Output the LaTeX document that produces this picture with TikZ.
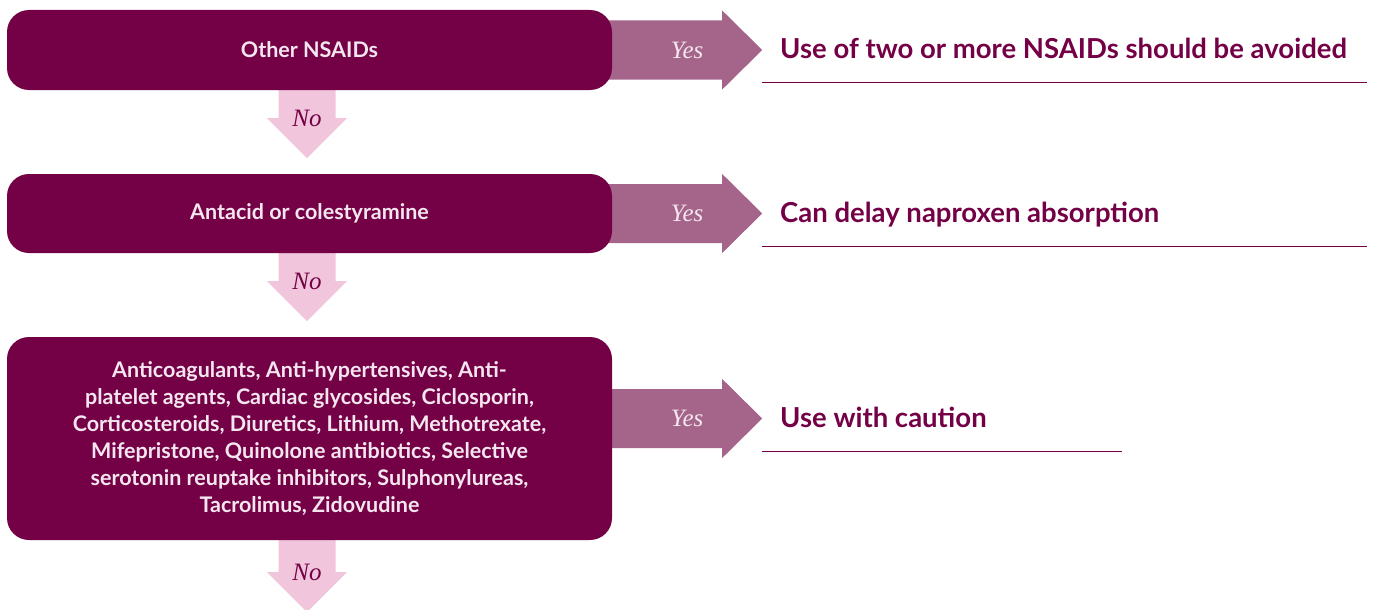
\documentclass[tikz,border=0pt]{standalone}
\usepackage{fontspec}
\setmainfont{Lato}
\newfontfamily\labfont{Liberation Serif}
\usetikzlibrary{calc,backgrounds}
\definecolor{plum}{HTML}{740046}
\definecolor{yesc}{HTML}{A5658A}
\definecolor{noc}{HTML}{F1C5DB}
\definecolor{boxtxt}{HTML}{F4E6EE}
\newcommand\yesarrow[2]{%
  \fill[yesc] ($(#1.east)+(-12,#2-29.5)$) -- ++(122,0) -- ++(0,-10) -- ++(40,39.5)
    -- ++(-40,39.5) -- ++(0,-10) -- ++(-122,0) -- cycle;}
\newcommand\noarrow[2]{%
  \fill[noc] ($(#1.south)+(-31,-2)$) -- ++(57,0) -- ++(0,#2) -- ++(11.5,0) -- ++(-40,40)
    -- ++(-40,-40) -- ++(11.5,0) -- cycle;}
\begin{document}
\begin{tikzpicture}[x=1pt,y=-1pt,
  qbox/.style={fill=plum, rounded corners=22pt, minimum width=605pt, text=boxtxt,
    font=\fontsize{21.5}{27}\selectfont\bfseries, align=center, inner sep=0pt},
  res/.style={text=plum, font=\fontsize{27.5}{30}\selectfont\bfseries, anchor=base west, inner sep=0pt},
  yeslab/.style={text=boxtxt, font=\labfont\itshape\fontsize{25}{25}\selectfont, inner sep=0pt},
  nolab/.style={text=plum, font=\labfont\itshape\fontsize{25}{25}\selectfont, inner sep=0pt},
  rule/.style={draw=plum, line width=1pt}]
\useasboundingbox (0,0) rectangle (1381,610);
% boxes
\node[qbox, minimum height=80pt] (n1) at (309.5,50) {Other NSAIDs};
\node[qbox, minimum height=79pt] (n2) at (309.5,213.5) {Antacid or colestyramine};
\node[qbox, minimum height=203pt] (n3) at (309.5,438.5) {Anticoagulants, Anti-hypertensives, Anti-\\platelet agents, Cardiac glycosides, Ciclosporin,\\Corticosteroids, Diuretics, Lithium, Methotrexate,\\Mifepristone, Quinolone antibiotics, Selective\\serotonin reuptake inhibitors, Sulphonylureas,\\Tacrolimus, Zidovudine};
% arrows behind boxes
\begin{scope}[on background layer]
\yesarrow{n1}{0}
\yesarrow{n2}{0}
\yesarrow{n3}{-20}
\noarrow{n1}{30}
\noarrow{n2}{30}
\noarrow{n3}{34}
\end{scope}
% labels
\node[yeslab] (y1) at ($(n1.east)+(75,0)$) {Yes};
\node[yeslab] (y2) at ($(n2.east)+(75,0)$) {Yes};
\node[yeslab] (y3) at ($(n3.east)+(75,-20)$) {Yes};
\node[nolab] (o1) at ($(n1.south)+(-2.5,28)$) {No};
\node[nolab] (o2) at ($(n2.south)+(-2.5,28)$) {No};
\node[nolab] (o3) at ($(n3.south)+(-2.5,32)$) {No};
% results
\node[res] (r1) at (780,59) {Use of two or more NSAIDs should be avoided};
\node[res] (r2) at (780,222) {Can delay naproxen absorption};
\node[res] (r3) at (780,427) {Use with caution};
\coordinate (u1a) at (762,82); \coordinate (u1b) at (1367,82);
\coordinate (u2a) at (762,246); \coordinate (u2b) at (1367,246);
\coordinate (u3a) at (762,451); \coordinate (u3b) at (1122,451);
\draw[rule] (u1a) -- (u1b);
\draw[rule] (u2a) -- (u2b);
\draw[rule] (u3a) -- (u3b);
\end{tikzpicture}
\end{document}
